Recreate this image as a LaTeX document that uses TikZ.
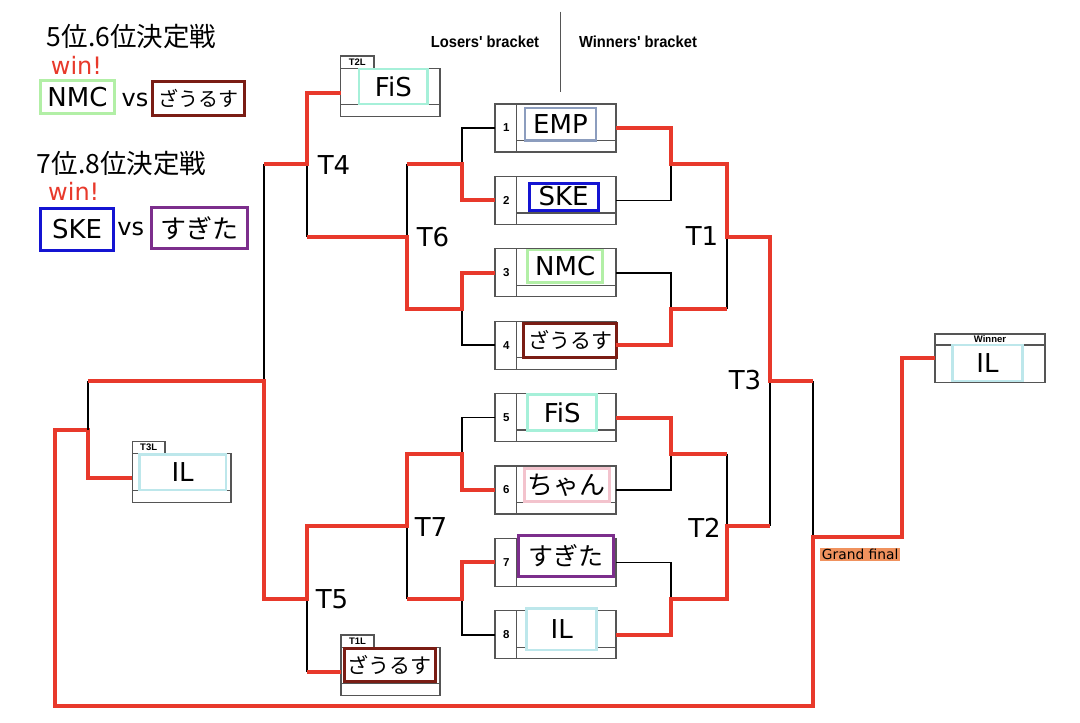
\documentclass[tikz,border=0pt]{standalone}
\usepackage{graphicx}
\usepackage{fontspec}
\setmainfont{DejaVu Sans}
\newfontfamily\jp{Noto Sans CJK JP}
\newfontfamily\arl{Liberation Sans}
\usetikzlibrary{calc}
\definecolor{wred}{HTML}{E8392B}
\definecolor{framec}{HTML}{555555}
\definecolor{empc}{HTML}{8C9DBE}
\definecolor{skec}{HTML}{1414D2}
\definecolor{nmcc}{HTML}{B2EFA6}
\definecolor{zauc}{HTML}{7A1D14}
\definecolor{fisc}{HTML}{A6F0D9}
\definecolor{chanc}{HTML}{F3C3CD}
\definecolor{sugc}{HTML}{7C2E8C}
\definecolor{ilc}{HTML}{BDE7EB}
\definecolor{gfc}{HTML}{F0925E}
\newcommand\fsz[1]{\fontsize{#1}{#1}\selectfont}
\tikzset{
  frame/.style={draw=framec,line width=1.3pt,inner sep=0pt,outer sep=0pt,fill=white},
  frameline/.style={draw=framec,line width=1.3pt},
  nbox/.style={draw,line width=2.5pt,fill=white,inner sep=0pt,outer sep=0pt,font=\fsz{26}},
  win/.style={draw=wred,line width=4pt},
  lose/.style={draw=black,line width=1.7pt},
  numlab/.style={font=\arl\bfseries\fsz{11.5},inner sep=0pt},
  tablab/.style={font=\arl\bfseries\fsz{9.5}},
  tlab/.style={font=\fsz{26},inner sep=0pt},
  brlab/.style={font=\arl\bfseries\fsz{16},inner sep=0pt},
}
\newcommand\namebox[7]{%
  \pgfmathsetmacro\nbW{#4-#2}%
  \pgfmathsetmacro\nbH{#5-#3}%
  \pgfmathsetmacro\nbX{(#2+#4)/2}%
  \pgfmathsetmacro\nbY{(#3+#5)/2}%
  \node[nbox,minimum width=\nbW pt,minimum height=\nbH pt,#6] (#1) at (\nbX,\nbY) {#7};}
\newcommand\wslot[2]{%
  \node[frame,anchor=north west,minimum width=121pt,minimum height=48pt] (s#1) at (495,#2) {};
  \draw[frameline] (516.7,#2) -- (516.7,#2+48);
  \draw[frameline] (516.7,#2+36.5) -- (616,#2+36.5);
  \node[numlab] (n#1) at (506.2,#2+24) {#1};}
\begin{document}
\begin{tikzpicture}[x=1pt,y=-1pt]
\useasboundingbox (0,0) rectangle (1080,723);
\fill[white] (0,0) rectangle (1080,723);

% header labels
\node[brlab] (lbl) at (485,41.7) {\scalebox{0.92}[1]{Losers' bracket}};
\node[brlab] (wbl) at (638,41.7) {\scalebox{0.92}[1]{Winners' bracket}};
\draw[draw=framec,line width=1.3pt] (560.7,11.7) -- (560.7,91.7);

% top-left results
\node[anchor=west,font=\jp\fsz{26.5},inner sep=0pt] (h56) at (46.7,36.7) {5位.6位決定戦};
\node[anchor=west,font=\fsz{24},text=wred,inner sep=0pt] (w56) at (50.7,65) {win!};
\namebox{tlnmc}{40.7}{80.7}{114.3}{113.3}{draw=nmcc}{NMC}
\node[font=\fsz{24},inner sep=0pt] (vs1) at (135,100) {vs};
\namebox{tlzau}{152.7}{81.7}{244.3}{115}{draw=zauc,line width=3pt,font=\jp\fsz{20}}{ざうるす}
\node[anchor=west,font=\jp\fsz{26.5},inner sep=0pt] (h78) at (36.7,163.3) {7位.8位決定戦};
\node[anchor=west,font=\fsz{24},text=wred,inner sep=0pt] (w78) at (48,191.7) {win!};
\namebox{tlske}{40.7}{208.3}{113.3}{250}{draw=skec,line width=3pt}{SKE}
\node[font=\fsz{24},inner sep=0pt] (vs2) at (130.8,229) {vs};
\namebox{tlsug}{151.7}{207.3}{247.3}{248.3}{draw=sugc,line width=3pt,font=\jp\fsz{26}}{すぎた}

% winners' bracket slots
\wslot{1}{104}
\wslot{2}{176.4}
\wslot{3}{248.8}
\wslot{4}{321.2}
\wslot{5}{393.6}
\wslot{6}{466}
\wslot{7}{538.4}
\wslot{8}{610.8}
\namebox{nm1}{525}{108}{596}{140.7}{draw=empc}{EMP}
\namebox{nm2}{529}{183}{598}{210}{draw=skec,line width=3pt}{SKE}
\namebox{nm3}{527.7}{250}{602.7}{282.7}{draw=nmcc}{NMC}
\namebox{nm4}{523.3}{323.3}{616.7}{357.3}{draw=zauc,line width=3pt,font=\jp\fsz{21}}{ざうるす}
\namebox{nm5}{527.7}{394.3}{596.7}{430.7}{draw=fisc}{FiS}
\namebox{nm6}{524.3}{468.3}{609.3}{501.7}{draw=chanc,font=\jp\fsz{26}}{ちゃん}
\namebox{nm7}{518.3}{535.7}{613.3}{576}{draw=sugc,line width=3pt,font=\jp\fsz{25}}{すぎた}
\namebox{nm8}{526.7}{608.3}{596.7}{650}{draw=ilc}{IL}

% losers' boxes
\node[frame,anchor=north west,minimum width=99.3pt,minimum height=48.4pt] (t2l) at (340.7,68.3) {};
\node[frame,anchor=south west,minimum width=33.3pt,minimum height=12.3pt,tablab] (t2ltab) at (t2l.north west) {T2L};
\draw[frameline] (340.7,104.3) -- (440,104.3);
\namebox{t2lname}{359}{69}{427.7}{104}{draw=fisc}{FiS}

\node[frame,anchor=north west,minimum width=98.7pt,minimum height=49.4pt] (t3l) at (132.3,453.3) {};
\node[frame,anchor=south west,minimum width=32.7pt,minimum height=11.6pt,tablab] (t3ltab) at (t3l.north west) {T3L};
\draw[frameline] (132.3,490.7) -- (231,490.7);
\namebox{t3lname}{139.3}{454.3}{226}{490}{draw=ilc}{IL}

\node[frame,anchor=north west,minimum width=99pt,minimum height=48.4pt] (t1l) at (341,647.3) {};
\node[frame,anchor=south west,minimum width=33pt,minimum height=12.3pt,tablab] (t1ltab) at (t1l.north west) {T1L};
\draw[frameline] (341,683.3) -- (440,683.3);
\namebox{t1lname}{344.3}{648.3}{435}{681.7}{draw=zauc,line width=3pt,font=\jp\fsz{21}}{ざうるす}

% winner box
\node[frame,anchor=north west,minimum width=110pt,minimum height=48.3pt] (win) at (935,334) {};
\draw[frameline] (935,345) -- (1045,345);
\node[tablab,inner sep=0pt] (winlab) at (990,339.5) {Winner};
\namebox{winname}{952.7}{345}{1022.3}{381}{draw=ilc}{IL}

% junctions
\coordinate (wA) at (671,164.2);
\coordinate (wB) at (671,309);
\coordinate (wC) at (671,453.8);
\coordinate (wD) at (671,598.6);
\coordinate (wE) at (726.7,236.6);
\coordinate (wF) at (726.7,526.2);
\coordinate (wG) at (770,381.4);
\coordinate (gf) at (813,536.7);
\coordinate (gfk) at (901.7,536.7);
\coordinate (bl) at (55,705.5);
\coordinate (lj) at (88.3,430);
\coordinate (lt) at (88.3,381.4);
\coordinate (lA) at (461.7,164.2);
\coordinate (lB) at (461.7,309);
\coordinate (lC) at (461.7,453.8);
\coordinate (lD) at (461.7,598.6);
\coordinate (lE) at (406.7,236.6);
\coordinate (lF) at (406.7,526.2);
\coordinate (lG) at (307.3,164.2);
\coordinate (lH) at (307.3,598.6);
\coordinate (lI) at (264,381.4);

% winners' connectors
\draw[lose] (s2.east) -| (wA);
\draw[lose] (s3.east) -| (wB);
\draw[lose] (wB -| wE) -- (wE);
\draw[lose] (s6.east) -| (wC);
\draw[lose] (wC -| wF) -- (wF);
\draw[lose] (s7.east) -| (wD);
\draw[lose] (wF -| wG) -- (wG);
\draw[lose] (wG -| gf) -- (gf);
\draw[win] (s1.east) -| (wA) -| (wE) -| (wG) -- (wG -| gf);
\draw[win] (s4.east) -| (wB) -- (wB -| wE);
\draw[win] (s5.east) -| (wC) -- (wC -| wF);
\draw[win] (s8.east) -| (wD) -| (wF) -- (wF -| wG);
\draw[win] (win.west) -| (gfk) -- (gf) |- (bl) |- (lj) |- (t3l.west);

% losers' connectors
\draw[lose] (lj) -- (lt);
\draw[lose] (lC) |- (s5.west);
\draw[lose] (lF) -- (lF |- lD);
\draw[lose] (lD) |- (s8.west);
\draw[lose] (lH) -- (lH |- t1l.west);
\draw[lose] (lI) -- (lI |- lG);
\draw[lose] (lG) -- (lG |- lE);
\draw[lose] (lB) |- (s4.west);
\draw[lose] (lE) -- (lE |- lA);
\draw[lose] (lA) |- (s1.west);
\draw[win] (lt) -- (lI) |- (lH) |- (lF) |- (lC) |- (s6.west);
\draw[win] (lF |- lD) -- (lD) |- (s7.west);
\draw[win] (lH |- t1l.west) -- (t1l.west);
\draw[win] (lI |- lG) -- (lG) |- (t2l.west);
\draw[win] (lG |- lE) -- (lE) |- (lB) |- (s3.west);
\draw[win] (lE |- lA) -- (lA) |- (s2.west);

% round labels
\node[tlab] (T1) at (702,236.5) {T1};
\node[tlab] (T2) at (704.5,527.5) {T2};
\node[tlab] (T3) at (745,380) {T3};
\node[tlab] (T4) at (334,165) {T4};
\node[tlab] (T5) at (332,598.8) {T5};
\node[tlab] (T6) at (433,237.3) {T6};
\node[tlab] (T7) at (431,526.7) {T7};

% grand final label
\node[fill=gfc,inner sep=0pt,minimum width=80pt,minimum height=13.4pt,anchor=north west,font=\fsz{13.8}] (gflab) at (820,547.3) {Grand final};
\end{tikzpicture}
\end{document}
